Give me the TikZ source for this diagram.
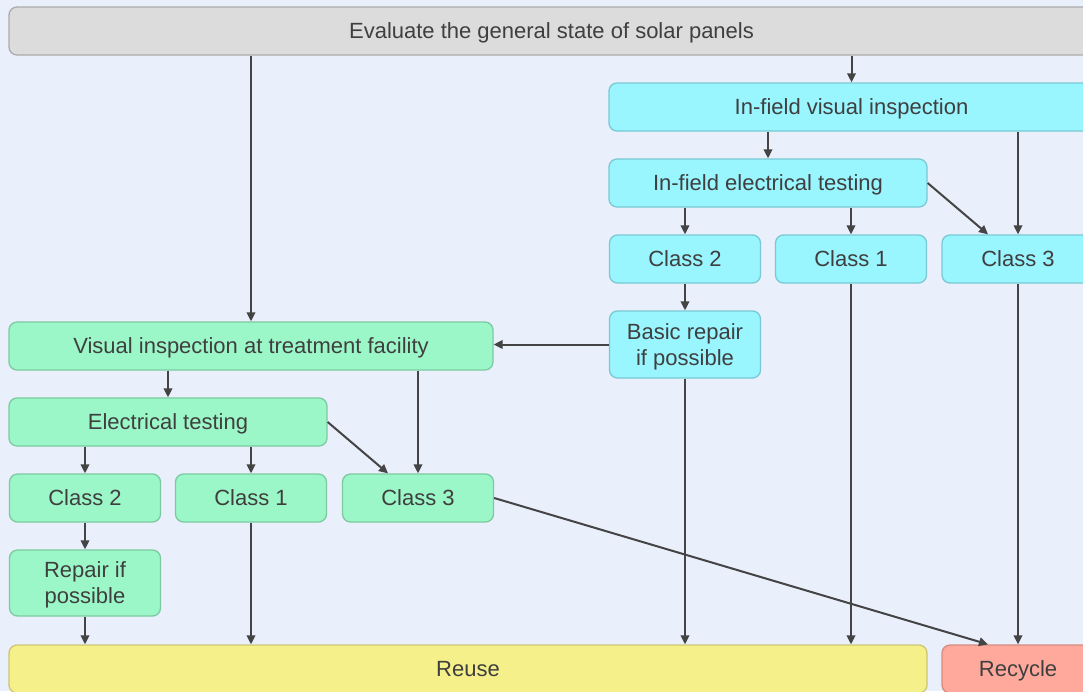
\documentclass[tikz,border=0pt]{standalone}
\usepackage{fontspec}
\setmainfont{Liberation Sans}
\usetikzlibrary{arrows.meta,positioning}
\definecolor{bgc}{HTML}{EAEFFC}
\definecolor{grayf}{HTML}{DCDCDC}
\definecolor{grayd}{HTML}{ABABAB}
\definecolor{cyanf}{HTML}{99F5FE}
\definecolor{cyand}{HTML}{78C9D3}
\definecolor{greenf}{HTML}{9CF7C8}
\definecolor{greend}{HTML}{7DC9A1}
\definecolor{yellf}{HTML}{F5F08A}
\definecolor{yelld}{HTML}{CCC673}
\definecolor{redf}{HTML}{FEA99B}
\definecolor{redd}{HTML}{D68B7F}
\definecolor{txt}{HTML}{3F3F3F}
\definecolor{arrc}{HTML}{444444}
\tikzset{
  box/.style={rounded corners=8pt, line width=1.3pt, inner sep=0pt, align=center,
    text=txt, font=\fontsize{22}{26}\selectfont, minimum height=48pt, text depth=0pt},
  graybox/.style={box, fill=grayf, draw=grayd},
  cyanbox/.style={box, fill=cyanf, draw=cyand},
  greenbox/.style={box, fill=greenf, draw=greend},
  yellbox/.style={box, fill=yellf, draw=yelld},
  redbox/.style={box, fill=redf, draw=redd},
  arr/.style={draw=arrc, line width=2pt, -{Triangle[length=9pt,width=8.5pt]}}
}
\begin{document}
\begin{tikzpicture}[x=1pt,y=-1pt]
\clip (0,0) rectangle (1083,691);
\fill[bgc] (0,0) rectangle (1083,691);
% nodes
\node[graybox, minimum width=1085pt, minimum height=48pt] (top) at (551.5,31) {Evaluate the general state of solar panels};
\node[cyanbox, minimum width=485pt] (ifvi) at (851.5,107) {In-field visual inspection};
\node[cyanbox, minimum width=318pt] (ifet) at (768,183) {In-field electrical testing};
\node[cyanbox, minimum width=151pt] (c2c) at (685,259) {Class 2};
\node[cyanbox, minimum width=151pt] (c1c) at (851,259) {Class 1};
\node[cyanbox, minimum width=152pt] (c3c) at (1018,259) {Class 3};
\node[cyanbox, minimum width=151pt, minimum height=67pt] (brep) at (685,344.5) {Basic repair\\if possible};
\node[greenbox, minimum width=484pt] (vitf) at (251,346) {Visual inspection at treatment facility};
\node[greenbox, minimum width=318pt] (et) at (168,422) {Electrical testing};
\node[greenbox, minimum width=151pt] (c2g) at (85,498) {Class 2};
\node[greenbox, minimum width=151pt] (c1g) at (251,498) {Class 1};
\node[greenbox, minimum width=151pt] (c3g) at (418,498) {Class 3};
\node[greenbox, minimum width=151pt, minimum height=66pt] (rep) at (85,583) {Repair if\\possible};
\node[yellbox, minimum width=918pt] (reuse) at (468,669) {Reuse};
\node[redbox, minimum width=152pt] (recycle) at (1018,669) {Recycle};
% connectors
\draw[arr] (top.south -| vitf.north) -- (vitf.north);
\draw[arr] (top.south -| ifvi.north) -- (ifvi.north);
\draw[arr] (ifvi.south -| ifet.north) -- (ifet.north);
\draw[arr] (ifvi.south -| c3c.north) -- (c3c.north);
\draw[arr] (ifet.south -| c2c.north) -- (c2c.north);
\draw[arr] (ifet.south -| c1c.north) -- (c1c.north);
\draw[arr] (ifet.east) -- ([xshift=-30pt]c3c.north);
\draw[arr] (c2c.south) -- (brep.north);
\draw[arr] (brep.west) -- (brep.west -| vitf.east);
\draw[arr] (brep.south) -- (brep.south |- reuse.north);
\draw[arr] (c1c.south) -- (c1c.south |- reuse.north);
\draw[arr] (c3c.south) -- (recycle.north);
\draw[arr] (vitf.south -| et.north) -- (et.north);
\draw[arr] (vitf.south -| c3g.north) -- (c3g.north);
\draw[arr] (et.south -| c2g.north) -- (c2g.north);
\draw[arr] (et.south -| c1g.north) -- (c1g.north);
\draw[arr] (et.east) -- ([xshift=-30pt]c3g.north);
\draw[arr] (c2g.south) -- (rep.north);
\draw[arr] (rep.south) -- (rep.south |- reuse.north);
\draw[arr] (c1g.south) -- (c1g.south |- reuse.north);
\draw[arr] (c3g.east) -- ([xshift=-30pt]recycle.north);
\end{tikzpicture}
\end{document}
